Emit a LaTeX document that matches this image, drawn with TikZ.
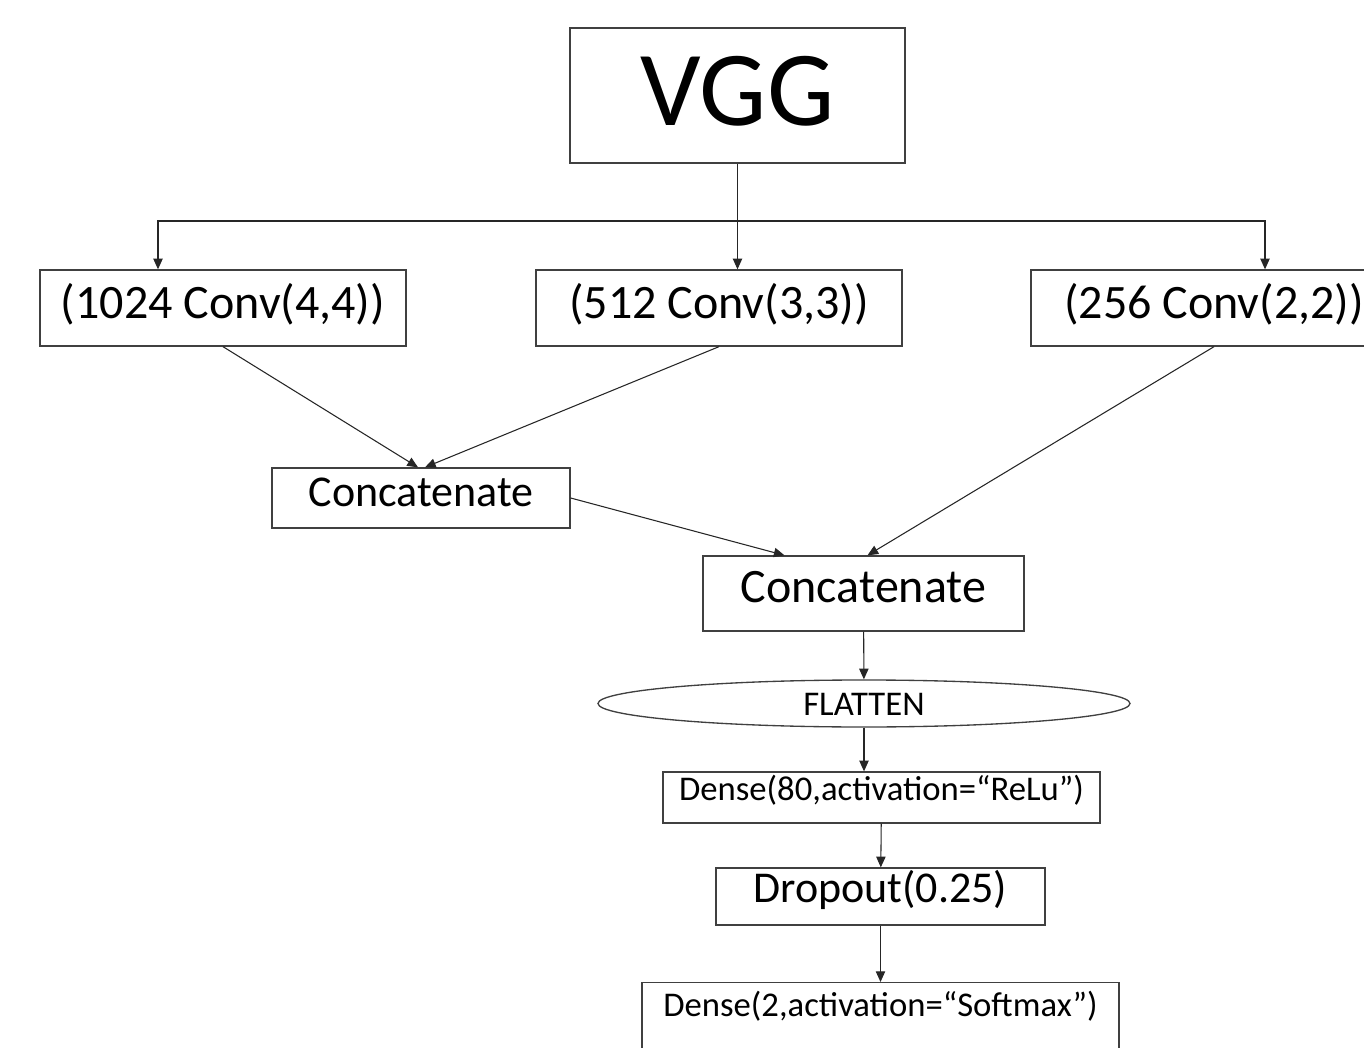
\documentclass[tikz,border=0pt]{standalone}
\usepackage{fontspec}
\setmainfont{Carlito}
\usepackage{tikz}
\usetikzlibrary{arrows.meta, positioning, calc, shapes.geometric}
\newcommand{\fsz}[1]{\fontsize{#1}{1.2\dimexpr#1pt\relax}\selectfont}

\begin{document}
\begin{tikzpicture}[x=0.75pt, y=-0.75pt,
  box/.style={draw=black!75, line width=1pt, rectangle, inner sep=0pt},
  sz/.style 2 args={minimum width=#1*0.75pt, minimum height=#2*0.75pt},
  lift/.style 2 args={text height=#1pt, text depth=#2pt},
  arr/.style={-{Triangle[length=8pt,width=7pt]}, black!85, line width=0.8pt}]
  \clip (0,0) rectangle (1364,1048);
  \node[box, sz={335}{135}, font=\fsz{80}, lift={60}{15}] (VGG) at (737.5,95.5) {VGG};
  \node[box, sz={366}{76}, font=\fsz{36}, lift={27}{11.5}] (Ca) at (223,308) {(1024 Conv(4,4))};
  \node[box, sz={366}{76}, font=\fsz{36}, lift={27}{11.5}] (Cb) at (719,308) {(512 Conv(3,3))};
  \node[box, sz={366}{76}, font=\fsz{36}, lift={27}{11.5}] (Cc) at (1214,308) {(256 Conv(2,2))};
  \node[box, sz={298}{60}, font=\fsz{33}, lift={24.75}{12}] (Cat1) at (421,498) {Concatenate};
  \node[box, sz={321}{75}, font=\fsz{36}, lift={27}{13}] (Cat2) at (863.5,593.5) {Concatenate};
  \node[ellipse, draw=black!75, line width=1pt, inner sep=0pt, sz={532}{47},
    font=\fsz{26}, lift={19.5}{1}] (Fl) at (864,703.5) {FLATTEN};
  \node[box, sz={437}{51}, font=\fsz{26}, lift={19.5}{15.5}] (Dn) at (881.5,797.5) {Dense(80,activation=“ReLu”)};
  \node[box, sz={329}{57}, font=\fsz{33}, lift={24.75}{15.5}] (Dp) at (880.5,896.5) {Dropout(0.25)};
  \node[box, sz={477}{0}, inner ysep=6pt, text depth=60pt, anchor=north,
    font=\fsz{26}] (Ds) at (880.5,982) {Dense(2,activation=“Softmax”)};

  \coordinate (bus) at (737.5,221);
  \draw[arr] (VGG) -- (VGG |- Cb.north);
  \draw[arr] (bus) -| ($(Ca.north)+(-65,0)$);
  \draw[arr] (bus) -| ($(Cc.north)+(51,0)$);
  \draw[arr] (Ca.south) -- ($(Cat1.north)+(-3,0)$);
  \draw[arr] (Cb.south) -- ($(Cat1.north)+(4,0)$);
  \draw[arr] (Cat1.east) -- ($(Cat2.north)+(-79,0)$);
  \draw[arr] (Cc.south) -- ($(Cat2.north)+(4,0)$);
  \draw[arr] (Cat2) -- (Fl);
  \draw[arr] (Fl) -- (Fl |- Dn.north);
  \draw[arr] (Dn) -- (Dp);
  \draw[arr] (Dp) -- (Ds);
\end{tikzpicture}
\end{document}
